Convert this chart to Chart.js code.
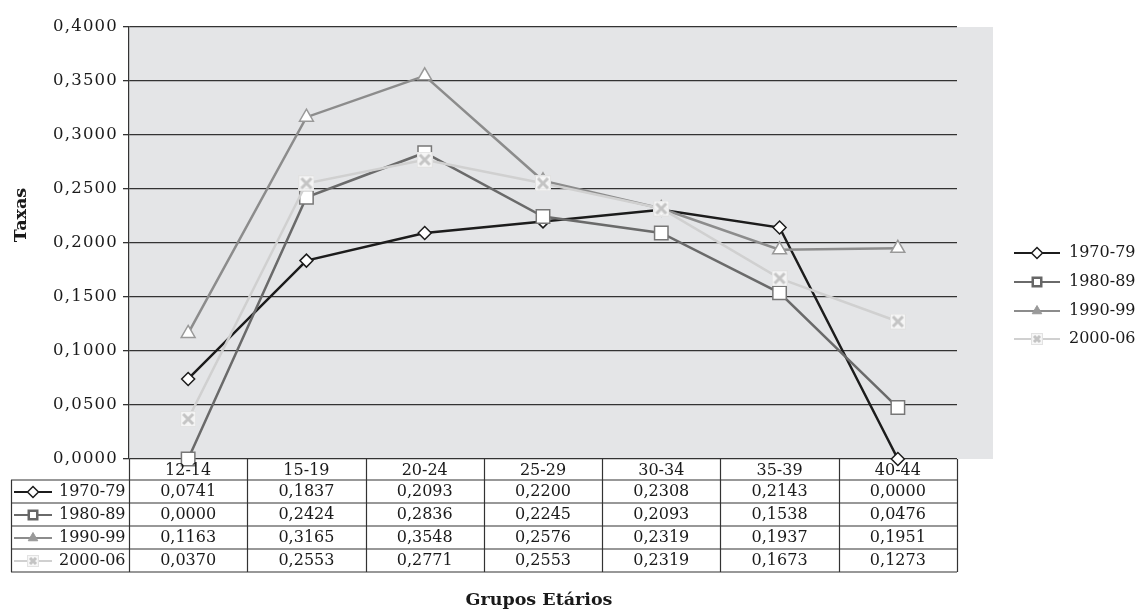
<!DOCTYPE html>
<html>
<head>
<meta charset="utf-8">
<script src="https://cdn.jsdelivr.net/npm/chart.js@4.4.1/dist/chart.umd.min.js"></script>
<style>
html,body{margin:0;padding:0;background:#fff;}
#wrap{width:1139px;height:610px;position:relative;}
</style>
</head>
<body>
<div id="wrap"><canvas id="c" width="1139" height="610"></canvas></div>
<script>
const categories = ['12-14','15-19','20-24','25-29','30-34','35-39','40-44'];
const seriesNames = ['1970-79','1980-89','1990-99','2000-06'];
const s1970 = [0.0741,0.1837,0.2093,0.2200,0.2308,0.2143,0.0000];
const s1980 = [0.0000,0.2424,0.2836,0.2245,0.2093,0.1538,0.0476];
const s1990 = [0.1163,0.3165,0.3548,0.2576,0.2319,0.1937,0.1951];
const s2000 = [0.0370,0.2553,0.2771,0.2553,0.2319,0.1673,0.1273];
const yTicks = [0,0.05,0.1,0.15,0.2,0.25,0.3,0.35,0.4];

const FONT = "'DejaVu Serif', 'Liberation Serif', serif";
const fmt = v => v.toFixed(4).replace('.', ',');

function makeX(size, color) {
  const c = document.createElement('canvas');
  c.width = size; c.height = size;
  const g = c.getContext('2d');
  g.fillStyle = 'rgba(246,246,246,0.95)';
  g.fillRect(0, 0, size, size);
  g.strokeStyle = '#e2e2e2';
  g.lineWidth = 1;
  g.strokeRect(0.5, 0.5, size - 1, size - 1);
  g.strokeStyle = color;
  g.lineWidth = 3;
  g.beginPath();
  g.moveTo(3, 3); g.lineTo(size - 3, size - 3);
  g.moveTo(size - 3, 3); g.lineTo(3, size - 3);
  g.stroke();
  return c;
}
const xBig = makeX(16, '#c4c4c4');
const xSmall = makeX(12, '#c4c4c4');

const styles = [
  {color:'#1c1c1c', pointStyle:'rectRot', radius:6.5, pBorder:'#1c1c1c', pBW:1.5},
  {color:'#6a6a6a', pointStyle:'rect', radius:9.5, pBorder:'#777777', pBW:1.5},
  {color:'#8c8c8c', pointStyle:'triangle', radius:8, pBorder:'#999999', pBW:1.5},
  {color:'#d0d0d0', pointStyle:xBig, radius:8, pBorder:'#d0d0d0', pBW:1}
];
const legendMarks = [
  {pointStyle:'rectRot', radius:5.5, fill:'#ffffff', border:'#1c1c1c', bw:1.5},
  {pointStyle:'rect', radius:6, fill:'#ffffff', border:'#666666', bw:2.5},
  {pointStyle:'triangle', radius:5.5, fill:'#999999', border:'#999999', bw:1},
  {pointStyle:xSmall, radius:6, fill:'#ffffff', border:'#cccccc', bw:1}
];
const allSeries = [s1970, s1980, s1990, s2000];

const datasets = allSeries.map((d, i) => ({
  label: seriesNames[i],
  data: d,
  borderColor: styles[i].color,
  backgroundColor: '#ffffff',
  borderWidth: 2.5,
  pointStyle: styles[i].pointStyle,
  pointRadius: styles[i].radius,
  pointHoverRadius: styles[i].radius,
  pointBackgroundColor: '#ffffff',
  pointBorderColor: styles[i].pBorder,
  pointBorderWidth: styles[i].pBW,
  tension: 0,
  clip: false,
  order: 4 - i
}));

const PLOT = {left:129, right:957, top:27, bottom:459, bgRight:993};
const ROW_Y = [459, 480, 503, 526, 549, 572];
const TABLE_LEFT = 11;
const TEXT_SIZE = 16;

function drawMarker(ctx, m, x, y) {
  ctx.save();
  ctx.fillStyle = m.fill;
  ctx.strokeStyle = m.border;
  ctx.lineWidth = m.bw;
  Chart.helpers.drawPoint(ctx, {pointStyle: m.pointStyle, radius: m.radius, rotation: 0, borderWidth: m.bw}, x, y);
  ctx.restore();
}
function drawKey(ctx, i, x1, x2, y) {
  ctx.save();
  ctx.strokeStyle = styles[i].color;
  ctx.lineWidth = 2;
  ctx.beginPath();
  ctx.moveTo(x1, y); ctx.lineTo(x2, y);
  ctx.stroke();
  ctx.restore();
  drawMarker(ctx, legendMarks[i], (x1 + x2) / 2, y);
}

const bgPlugin = {
  id: 'bg',
  beforeDraw(chart) {
    const ctx = chart.ctx;
    ctx.save();
    ctx.fillStyle = '#e4e5e7';
    const a = chart.chartArea;
    ctx.fillRect(a.left, a.top, PLOT.bgRight - a.left, a.bottom - a.top);
    ctx.restore();
    ctx.letterSpacing = '1.2px';
  },
  beforeDatasetsDraw(chart) {
    chart.ctx.letterSpacing = '0px';
  }
};

const tablePlugin = {
  id: 'table',
  afterDraw(chart) {
    const ctx = chart.ctx;
    ctx.letterSpacing = '0px';
    const xs = chart.scales.x;
    const a = chart.chartArea;
    const n = categories.length;
    const colW = (a.right - a.left) / n;
    ctx.save();
    ctx.strokeStyle = '#333333';
    ctx.lineWidth = 1.2;
    ctx.beginPath();
    ctx.moveTo(a.left, ROW_Y[1]); ctx.lineTo(a.right, ROW_Y[1]);
    for (let r = 1; r < ROW_Y.length; r++) {
      ctx.moveTo(TABLE_LEFT, ROW_Y[r]); ctx.lineTo(a.right, ROW_Y[r]);
    }
    for (let c = 0; c <= n; c++) {
      const x = Math.round(xs.getPixelForValue(0) - colW / 2 + c * colW) + 0.5;
      ctx.moveTo(x, ROW_Y[0]); ctx.lineTo(x, ROW_Y[ROW_Y.length - 1]);
    }
    ctx.moveTo(TABLE_LEFT + 0.5, ROW_Y[1]); ctx.lineTo(TABLE_LEFT + 0.5, ROW_Y[ROW_Y.length - 1]);
    ctx.stroke();

    ctx.fillStyle = '#1a1a1a';
    ctx.font = TEXT_SIZE + 'px ' + FONT;
    ctx.textAlign = 'center';
    ctx.textBaseline = 'middle';
    categories.forEach((c, j) => {
      ctx.fillText(c, xs.getPixelForValue(j), (ROW_Y[0] + ROW_Y[1]) / 2 + 1);
    });
    allSeries.forEach((d, i) => {
      const yc = (ROW_Y[i + 1] + ROW_Y[i + 2]) / 2 + 0.5;
      d.forEach((v, j) => {
        ctx.fillText(fmt(v), xs.getPixelForValue(j), yc);
      });
    });
    ctx.textAlign = 'left';
    allSeries.forEach((d, i) => {
      const yc = (ROW_Y[i + 1] + ROW_Y[i + 2]) / 2 + 0.5;
      drawKey(ctx, i, 14, 52, yc);
      ctx.fillStyle = '#1a1a1a';
      ctx.fillText(seriesNames[i], 59, yc);
    });

    const LY = [253, 282, 311, 339];
    seriesNames.forEach((s, i) => {
      drawKey(ctx, i, 1014, 1060, LY[i]);
      ctx.fillStyle = '#1a1a1a';
      ctx.textAlign = 'left';
      ctx.fillText(s, 1069, LY[i]);
    });

    ctx.font = 'bold 17.5px ' + FONT;
    ctx.fillStyle = '#1a1a1a';
    ctx.textAlign = 'center';
    ctx.fillText('Grupos Etários', 539, 600);
    ctx.translate(21, 215);
    ctx.rotate(-Math.PI / 2);
    ctx.fillText('Taxas', 0, 0);
    ctx.restore();
  }
};

new Chart(document.getElementById('c'), {
  type: 'line',
  data: { labels: categories, datasets },
  options: {
    responsive: false,
    animation: false,
    devicePixelRatio: 1,
    layout: { padding: { left: 0, right: 1139 - PLOT.right, top: PLOT.top, bottom: 610 - PLOT.bottom } },
    plugins: { legend: { display: false }, tooltip: { enabled: false }, title: { display: false } },
    scales: {
      x: { display: false, offset: true, grid: { display: false } },
      y: {
        min: 0, max: 0.4,
        afterFit(scale) { scale.width = PLOT.left; },
        afterBuildTicks(scale) { scale.ticks = yTicks.map(v => ({ value: v })); },
        ticks: {
          callback: v => fmt(v),
          font: { family: FONT, size: 16.5 },
          color: '#1a1a1a',
          padding: 5
        },
        grid: { color: '#333333', lineWidth: 1.3, tickLength: 6, drawTicks: true },
        border: { display: true, color: '#333333', width: 1.2 }
      }
    }
  },
  plugins: [bgPlugin, tablePlugin]
});
</script>
</body>
</html>
